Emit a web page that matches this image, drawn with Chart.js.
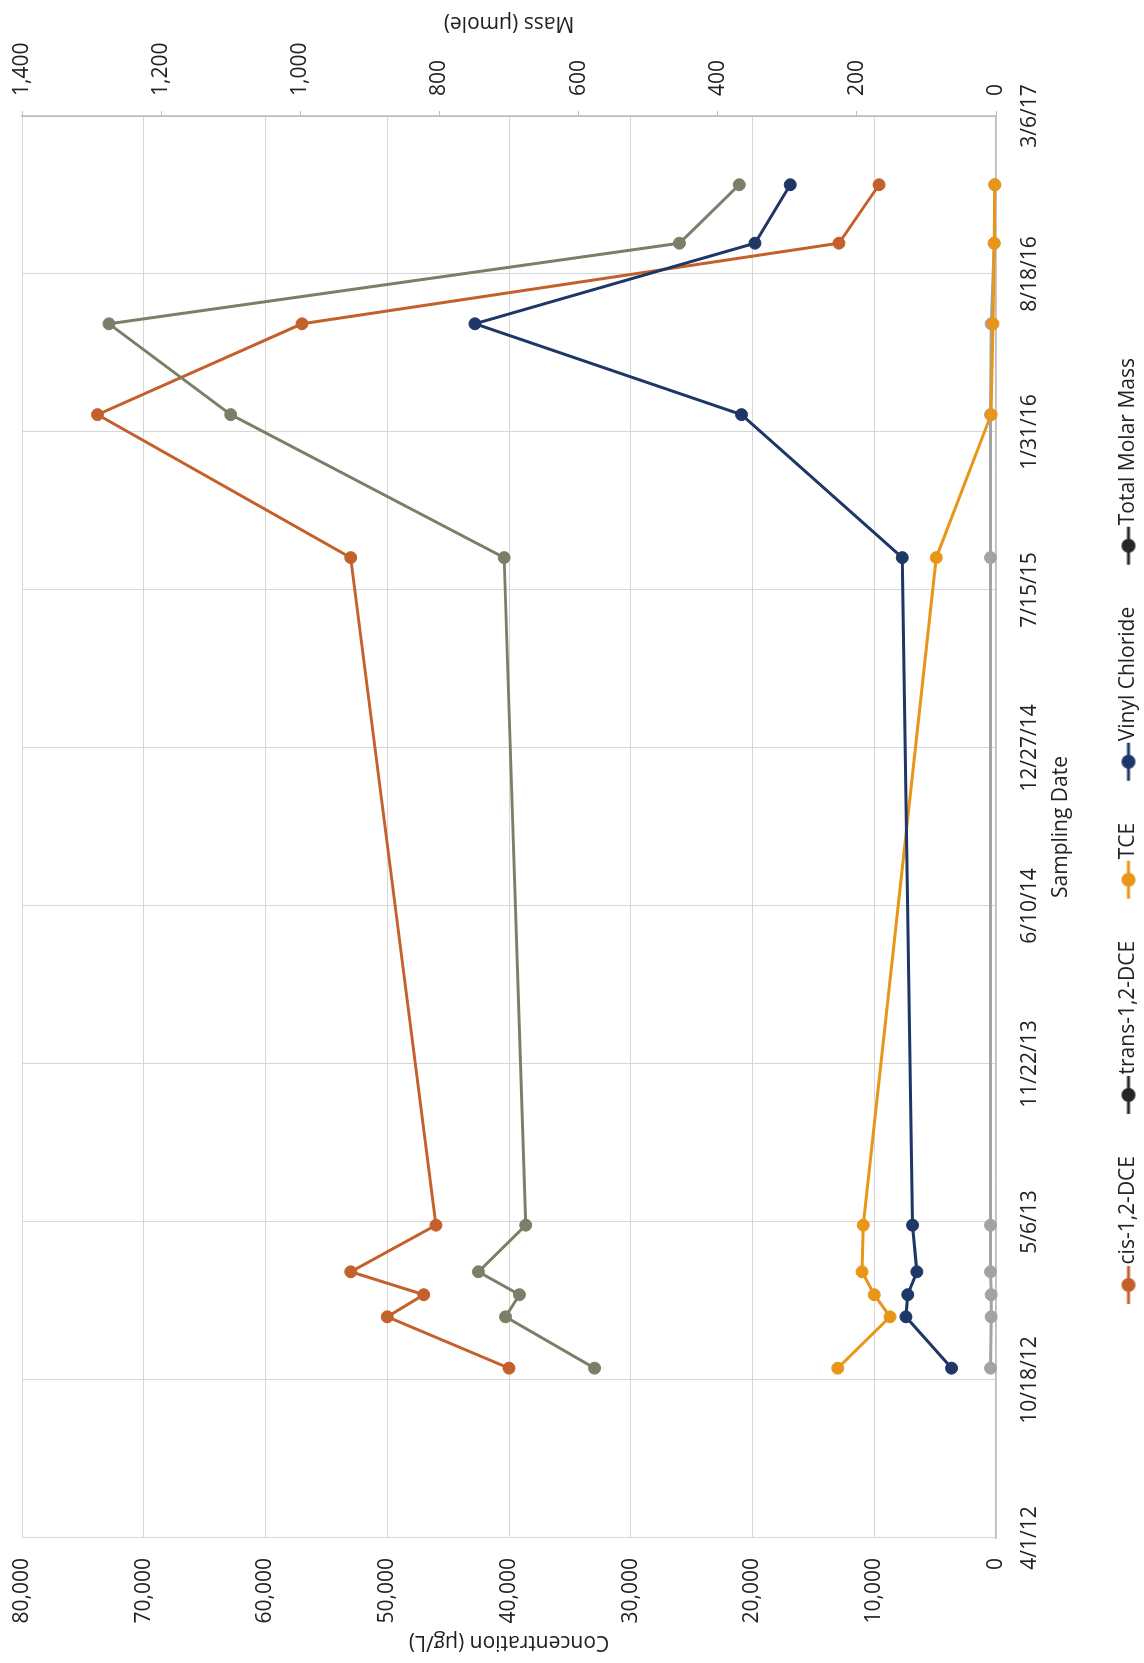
<!DOCTYPE html>
<html>
<head>
<meta charset="utf-8">
<script src="https://cdn.jsdelivr.net/npm/chart.js@4.4.1/dist/chart.umd.min.js"></script>
<style>
  html, body { margin:0; padding:0; background:#fff; width:1144px; height:1663px; overflow:hidden; }
  #wrap { position:absolute; left:0; top:0; width:1663px; height:1144px;
          transform-origin:0 0; transform:translateY(1663px) rotate(-90deg); }
  canvas { display:block; }
</style>
</head>
<body>
<div id="wrap"><canvas id="c" width="1663" height="1144" style="width:1663px;height:1144px"></canvas></div>
<script>
// ---- data ----
const sampleDates = ['2012-11-02','2013-01-06','2013-02-03','2013-03-04','2013-05-02',
                     '2015-08-25','2016-02-22','2016-06-16','2016-09-26','2016-12-09'];
const dateTickLabels = ['4/1/12','10/18/12','5/6/13','11/22/13','6/10/14','12/27/14',
                        '7/15/15','1/31/16','8/18/16','3/6/17'];
const seriesNames = ['cis-1,2-DCE','trans-1,2-DCE','TCE','Vinyl Chloride','Total Molar Mass'];
const cisDCE        = [40000, 50000, 47000, 53000, 46000, 53000, 73800, 57000, 12900, 9600];
const transDCE      = [450, 400, 400, 450, 450, 450, 450, 400, 150, 100];
const tce           = [13000, 8700, 10000, 11000, 10900, 4900, 400, 250, 150, 100];
const vinylChloride = [3650, 7400, 7250, 6500, 6850, 7700, 20900, 42800, 19800, 16900];
const totalMolarMass= [577, 705, 685, 744, 676, 707, 1100, 1275, 455, 369];
const concTitle = 'Concentration (µg/L)';
const massTitle = 'Mass (µmole)';
const dateTitle = 'Sampling Date';
const startDate = '2012-04-01';

const colors = ['#C4602C', '#A3A3A3', '#E8961A', '#1E3766', '#7B7F68'];
const legendColors = ['#C4602C', '#262626', '#E8961A', '#1E3766', '#262626'];

function dayIndex(s) {
  const p = s.split('-').map(Number), q = startDate.split('-').map(Number);
  return Math.round((Date.UTC(p[0], p[1]-1, p[2]) - Date.UTC(q[0], q[1]-1, q[2])) / 86400000);
}
const days = sampleDates.map(dayIndex);
const toXY = arr => arr.map((v, i) => ({x: days[i], y: v}));

function legendIcon(color) {
  const c = document.createElement('canvas');
  c.width = 50; c.height = 18;
  const g = c.getContext('2d');
  g.strokeStyle = color; g.lineWidth = 3;
  g.beginPath(); g.moveTo(11, 9); g.lineTo(49, 9); g.stroke();
  g.fillStyle = color; g.beginPath(); g.arc(30, 9, 7, 0, Math.PI*2); g.fill();
  return c;
}
const legendIcons = legendColors.map(legendIcon);

const seriesData = [cisDCE, transDCE, tce, vinylChloride, totalMolarMass];
const datasets = seriesData.map((arr, i) => ({
  label: seriesNames[i],
  data: toXY(arr),
  yAxisID: i === 4 ? 'y2' : 'y',
  borderColor: colors[i],
  backgroundColor: colors[i],
  pointBackgroundColor: colors[i],
  pointBorderColor: colors[i],
  pointBorderWidth: 1,
  pointRadius: 6,
  borderWidth: 3,
  tension: 0,
  clip: false,
  order: 5 - i
}));

Chart.defaults.font.family = "'Open Sans', sans-serif";
Chart.defaults.font.size = 21;
Chart.defaults.color = '#222';

const massTitlePlugin = {
  id: 'massTitle',
  afterDraw(chart) {
    const ctx = chart.ctx, s = chart.scales.y2, a = chart.chartArea;
    ctx.save();
    ctx.translate(s.right - 23, (a.top + a.bottom) / 2);
    ctx.rotate(-Math.PI / 2);
    ctx.font = "21px 'Open Sans', sans-serif";
    ctx.fillStyle = '#222';
    ctx.textAlign = 'center';
    ctx.textBaseline = 'middle';
    ctx.fillText(massTitle, 0, 0);
    ctx.restore();
  }
};

new Chart(document.getElementById('c'), {
  type: 'line',
  data: { datasets },
  plugins: [massTitlePlugin],
  options: {
    responsive: false,
    animation: false,
    devicePixelRatio: 1,
    layout: { padding: { top: 22, bottom: -5, left: 0, right: 0 } },
    plugins: {
      tooltip: { enabled: false },
      legend: {
        position: 'bottom',
        labels: {
          usePointStyle: true,
          pointStyleWidth: 30,
          padding: 41,
          color: '#222',
          font: { size: 21 },
          generateLabels(chart) {
            const items = Chart.defaults.plugins.legend.labels.generateLabels(chart);
            items.forEach(it => { it.pointStyle = legendIcons[it.datasetIndex]; it.fontColor = '#222'; });
            return items.sort((a, b) => a.datasetIndex - b.datasetIndex);
          }
        }
      }
    },
    scales: {
      x: {
        type: 'linear',
        position: 'bottom',
        min: 0, max: 1800,
        afterFit(s) { s.height = 81; },
        ticks: {
          stepSize: 200, maxRotation: 0, autoSkip: false, padding: 21,
          callback: (v, i) => dateTickLabels[i]
        },
        grid: { color: '#d6d6d6', lineWidth: 1, drawTicks: false },
        border: { display: true, color: '#bdbdbd', width: 1.5 },
        title: { display: true, text: dateTitle, padding: { top: 0, bottom: 3 } }
      },
      y: {
        position: 'left',
        min: 0, max: 80000,
        afterFit(s) { s.width = 125; s.paddingTop = 0; s.paddingBottom = 0; },
        ticks: { stepSize: 10000, padding: 20, callback: v => v.toLocaleString('en-US') },
        grid: { color: '#d6d6d6', lineWidth: 1, drawTicks: false },
        border: { display: false },
        title: { display: true, text: concTitle, padding: { top: 8, bottom: 0 } }
      },
      y2: {
        position: 'right',
        min: 0, max: 1400,
        afterFit(s) { s.width = 116; s.paddingTop = 0; s.paddingBottom = 0; },
        ticks: { stepSize: 200, padding: 15, callback: v => v.toLocaleString('en-US') },
        grid: { drawOnChartArea: false, drawTicks: true, tickLength: 5, color: '#bdbdbd' },
        border: { display: true, color: '#bdbdbd', width: 1.5 }
      }
    }
  }
});
</script>
</body>
</html>
